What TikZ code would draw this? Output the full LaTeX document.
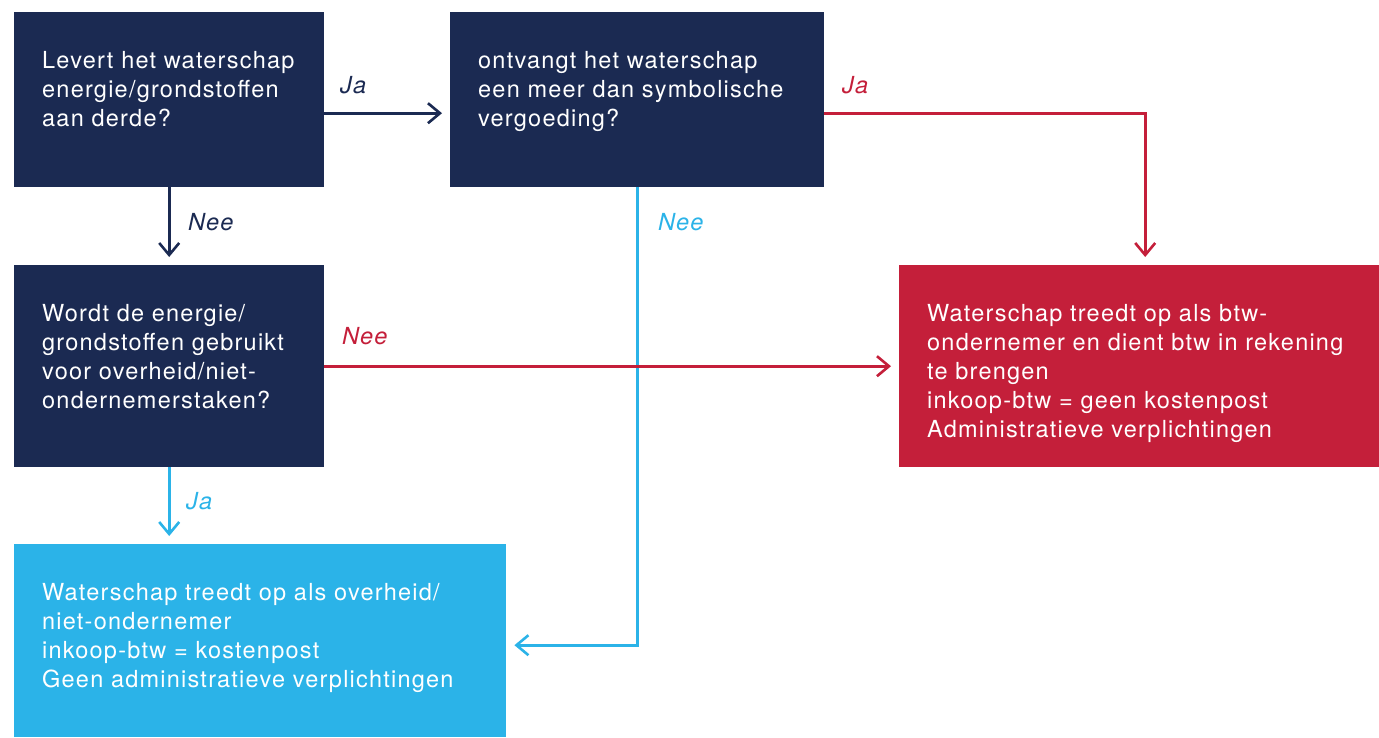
\documentclass[tikz,border=0pt]{standalone}
\usepackage{fontspec}
\setmainfont{TeX Gyre Heros}[LetterSpace=5.2]
\usetikzlibrary{arrows.meta}

\definecolor{navy}{RGB}{27,42,82}
\definecolor{wred}{RGB}{196,31,58}
\definecolor{lblue}{RGB}{43,179,232}

\tikzset{
  box/.style={rectangle, inner sep=0pt, anchor=north west, draw=none},
  boxtext/.style={anchor=north west, inner sep=0pt, align=left, text=white,
    font=\fontsize{23.5}{29}\selectfont},
  lbl/.style={anchor=west, inner sep=0pt, font=\fontsize{23.5}{29}\selectfont\itshape},
  flow/.style={line width=2.6pt, shorten >=8pt,
    -{Straight Barb[length=12pt,width=20pt,line width=2.6pt]}},
}

\begin{document}
\begin{tikzpicture}[x=1pt,y=-1pt]
  \useasboundingbox (0,0) rectangle (1379,737);

  % boxes
  \node[box, fill=navy, minimum width=310pt, minimum height=175pt] (A) at (14,12) {};
  \node[box, fill=navy, minimum width=374pt, minimum height=175pt] (B) at (450,12) {};
  \node[box, fill=navy, minimum width=310pt, minimum height=202pt] (C) at (14,265) {};
  \node[box, fill=wred, minimum width=480pt, minimum height=202pt] (D) at (899,265) {};
  \node[box, fill=lblue, minimum width=492pt, minimum height=193pt] (E) at (14,544) {};

  % box texts
  \node[boxtext] (At) at ([xshift=28pt,yshift=-39pt]A.north west)
    {Levert het waterschap\\energie/grondstoffen\\aan derde?};
  \node[boxtext] (Bt) at ([xshift=28pt,yshift=-39pt]B.north west)
    {ontvangt het waterschap\\een meer dan symbolische\\vergoeding?};
  \node[boxtext] (Ct) at ([xshift=28pt,yshift=-39pt]C.north west)
    {Wordt de energie/\\grondstoffen gebruikt\\voor overheid/niet-\\ondernemerstaken?};
  \node[boxtext] (Dt) at ([xshift=28pt,yshift=-39pt]D.north west)
    {Waterschap treedt op als btw-\\ondernemer en dient btw in rekening\\te brengen\\inkoop-btw = geen kostenpost\\Administratieve verplichtingen};
  \node[boxtext] (Et) at ([xshift=28pt,yshift=-39pt]E.north west)
    {Waterschap treedt op als overheid/\\niet-ondernemer\\inkoop-btw = kostenpost\\Geen administratieve verplichtingen};

  % connectors
  \draw[flow, navy] ([yshift=-13.5pt]A.east) -- ([yshift=-13.5pt]B.west);
  \draw[flow, navy] (A.south) -- (C.north);
  \draw[flow, wred] ([yshift=-13.5pt]B.east) -| ([xshift=6pt]D.north);
  \draw[flow, lblue] (B.south) |- ([yshift=-4.5pt]E.east);
  \draw[flow, wred] (C.east) -- (C.east -| D.west);
  \draw[flow, lblue] (C.south) -- (C.south |- E.north);

  % connector labels
  \node[lbl, text=navy] (l1) at (340,85) {Ja};
  \node[lbl, text=navy] (l2) at (188,222) {Nee};
  \node[lbl, text=wred] (l3) at (842,85) {Ja};
  \node[lbl, text=lblue] (l4) at (658,222) {Nee};
  \node[lbl, text=wred] (l5) at (342,336) {Nee};
  \node[lbl, text=lblue] (l6) at (186,501) {Ja};
\end{tikzpicture}
\end{document}
